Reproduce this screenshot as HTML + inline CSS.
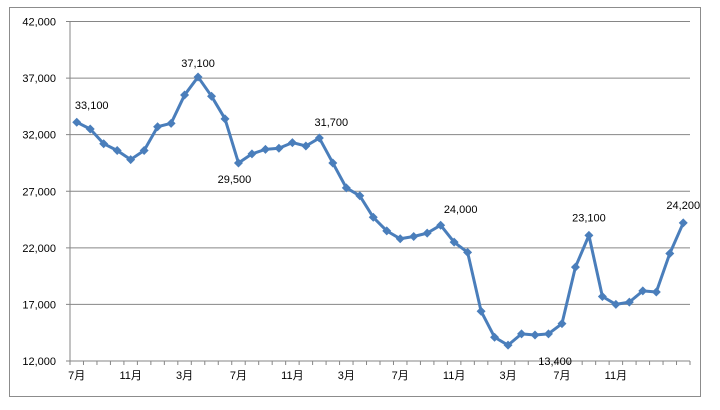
<!DOCTYPE html>
<html><head><meta charset="utf-8"><style>
body{margin:0;background:#fff;width:720px;height:405px;overflow:hidden}
svg text{font-family:"Liberation Sans","Noto Sans CJK JP",sans-serif;font-size:11px;fill:#000}
</style></head><body>
<svg id="c" width="720" height="405">
<rect x="9.5" y="7.5" width="691" height="389" fill="#fff" stroke="#8c8c8c"/>
<g id="g"></g>
</svg>
<script>
const values=[33100,32500,31200,30600,29800,30600,32700,33000,35500,37100,35400,33400,29500,30300,30700,30800,31300,31000,31700,29500,27300,26600,24700,23500,22800,23000,23300,24000,22500,21600,16400,14100,13400,14400,14300,14400,15300,20300,23100,17700,17000,17200,18200,18100,21500,24200];
const xLabels=["7月","11月","3月","7月","11月","3月","7月","11月","3月","7月","11月"];
const yTicks=[12000,17000,22000,27000,32000,37000,42000];
const annotIdx=[0,9,12,18,27,38,45,32];
const annotText=["33,100","37,100","29,500","31,700","24,000","23,100","24,200","13,400"];
const annotDx=[15,0,-4,12,20,0,0,47];
const annotDy=[-13,-10,20,-12,-12,-14,-14,20];
const NS="http://www.w3.org/2000/svg";
const g=document.getElementById('g');
const L=70,R=690,T=21.5,B=361,N=values.length,cw=(R-L)/N;
const X=i=>L+cw*(i+0.5);
const Y=v=>B-(v-12000)/30000*(B-T);
function mk(t,a){const e=document.createElementNS(NS,t);for(const k in a)e.setAttribute(k,a[k]);g.appendChild(e);return e;}
yTicks.forEach(v=>{
 const l=mk('line',{x1:L-4,x2:R,y1:Y(v),y2:Y(v),stroke:'#868686','stroke-width':1});
 
 
 const t=mk('text',{x:L-14,y:Y(v)+4,'text-anchor':'end'});t.textContent=v.toLocaleString('en-US');
 
 
});
const ax=mk('line',{x1:L,x2:L,y1:T,y2:B,stroke:'#868686'});


for(let i=0;i<=N;i++){
 const tk=mk('line',{x1:L+cw*i,x2:L+cw*i,y1:B,y2:B+4,stroke:'#868686'});
 
 
}
xLabels.forEach((s,j)=>{
 const t=mk('text',{x:X(j*4),y:B+18,'text-anchor':'middle'});t.textContent=s;
 
 
});
const p=mk('polyline',{points:values.map((v,i)=>X(i)+','+Y(v)).join(' '),fill:'none',stroke:'#4a7ebb','stroke-width':3,'stroke-linejoin':'round'});


values.forEach((v,i)=>{
 const x=X(i),y=Y(v),s=4.5;
 const d=mk('polygon',{points:`${x},${y-s} ${x+s},${y} ${x},${y+s} ${x-s},${y}`,fill:'#4a7ebb'});
 
 
});
annotIdx.forEach((i,k)=>{
 const t=mk('text',{x:X(i)+annotDx[k],y:Y(values[i])+annotDy[k],'text-anchor':'middle'});
 t.textContent=annotText[k];
 
 
});
</script>
</body></html>
